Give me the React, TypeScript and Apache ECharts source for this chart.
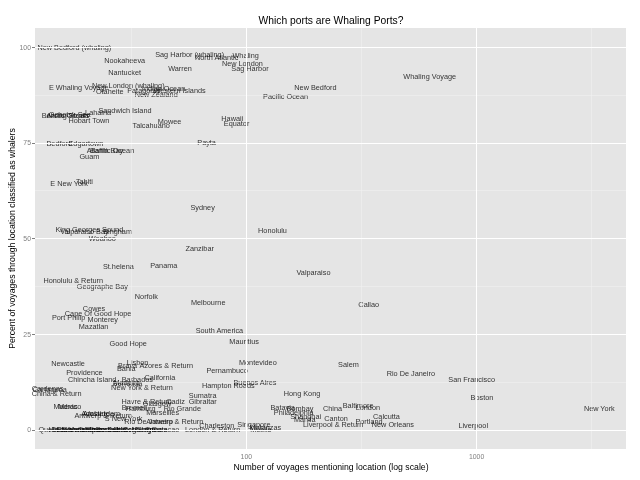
import React, { useEffect, useRef } from "react";
import * as echarts from "echarts";

// Port labels, the number of voyages that mention each one, and the percent classified as whalers
const portNames = [
  "New Bedford (whaling)", "Nookaheeva", "Sag Harbor (whaling)", "North Atlantic", "Whaling",
  "New London", "Sag Harbor", "Warren", "Nantucket", "Whaling Voyage",
  "New Bedford", "Pacific Ocean", "E Whaling Voyage", "New London (whaling)", "Otaheite",
  "Patagonia", "New Zealand", "Indian Ocean", "Western Islands", "Sandwich Island",
  "Arctic Ocean", "Behring Straits", "Ochotsk Sea", "Lahaina", "Hobart Town",
  "Mowee", "Talcahuano", "Hawaii", "Equator", "Payta",
  "Bedford", "Edgartown", "Atlantic Ocean", "Baffin Bay", "Guam",
  "E New York", "Tahiti", "Sydney", "King Georges Sound", "Valparaiso Bay",
  "Bingham", "Woahoo", "Zanzibar", "Honolulu", "Panama",
  "St.helena", "Valparaiso", "Honolulu & Return", "Geographe Bay", "Norfolk",
  "Melbourne", "Callao", "Cowes", "Cape Of Good Hope", "Port Philip",
  "Monterey", "Mazatlan", "South America", "Mauritius", "Good Hope",
  "Newcastle", "Lisbon", "Bahia", "Brava", "Azores & Return",
  "Pernambuco", "Montevideo", "Salem", "Rio De Janeiro", "San Francisco",
  "Boston", "New York", "Liverpool", "New Orleans", "Portland",
  "Calcutta", "London", "Baltimore", "China", "Canton",
  "Liverpool & Return", "Hong Kong", "Batavia", "Bombay", "Philadelphia",
  "Shanghai", "Manila", "Singapore", "Matanzas", "Mobile",
  "Charleston", "London & Return", "Hampton Roads", "Buenos Aires", "Sumatra",
  "Cadiz", "Gibraltar", "Havre & Return", "Glasgow", "Hamburg",
  "Bremen", "Rio Grande", "Marseilles", "Madras", "Mexico",
  "Amsterdam", "Adelaide", "Antwerp & Return", "S New York", "Rio De Janeiro & Return",
  "Antwerp", "Providence", "Chincha Island", "California", "Barbados",
  "Madeira", "Bermuda", "New York & Return", "Cardenas", "Cartagena",
  "China & Return",
  "Quebec", "Halifax", "St Johns", "Savannah", "Galveston",
  "Vera Cruz", "Tampico", "Havana", "Cronstadt", "Bordeaux",
  "Dublin", "Bristol", "Cork", "Leghorn", "Malaga",
  "Smyrna", "Trieste", "Curacao",
];

const voyageCounts = [
  17.9, 29.6, 56.7, 74.3, 99.3,
  96.1, 103.7, 51.5, 29.6, 626,
  199.5, 148, 18.7, 30.7, 25.5,
  35.8, 40.6, 43.7, 51.3, 29.7,
  16.7, 16.4, 17.1, 22.7, 20.7,
  46.4, 38.6, 86.9, 90.7, 67.2,
  15.4, 20.1, 25.7, 24.7, 20.8,
  17.0, 19.8, 64.6, 20.8, 19.8,
  27.6, 23.7, 62.7, 129.9, 43.8,
  27.8, 195.7, 17.7, 23.7, 36.8,
  68.3, 340, 21.8, 22.7, 16.9,
  23.8, 21.7, 76.4, 97.8, 30.7,
  16.8, 33.7, 30.1, 30.5, 44.9,
  82.5, 112.2, 277.6, 518, 952,
  1055, 3412, 967, 433, 341,
  406, 337, 305.6, 236.8, 245.2,
  238.4, 174.5, 143.8, 171, 160.6,
  181, 179.3, 107.9, 121, 115.7,
  74.4, 71.4, 83.5, 109, 64.6,
  49.3, 64.6, 36.9, 40.9, 34.7,
  32.7, 52.7, 43.3, 16.4, 17.1,
  23.5, 22.1, 23.9, 29.3, 43.8,
  42.0, 19.8, 21.4, 42.1, 33.6,
  30.2, 30.5, 35.2, 13.7, 14.0,
  15.0,
  14.2, 15.5, 16.4, 17.6, 18.7,
  20.0, 21.3, 22.8, 24.2, 26.0,
  27.6, 29.3, 31.4, 33.7, 35.8,
  38.0, 40.7, 44.6,
];

const whalerPercents = [
  100, 96.6, 98.2, 97.4, 97.9,
  95.8, 94.3, 94.3, 93.4, 92.3,
  89.4, 87.2, 89.4, 90.1, 88.4,
  88.7, 87.7, 89.1, 88.7, 83.4,
  82.1, 82.1, 82.3, 82.8, 80.9,
  80.6, 79.5, 81.3, 80.1, 75.1,
  74.9, 74.9, 73.1, 73.1, 71.3,
  64.5, 64.9, 58.2, 52.4, 51.9,
  51.9, 50.0, 47.5, 52.2, 42.9,
  42.7, 41.2, 38.9, 37.4, 34.9,
  33.2, 32.7, 31.7, 30.3, 29.4,
  28.8, 27.1, 25.9, 23.2, 22.5,
  17.4, 17.7, 16.0, 16.8, 16.7,
  15.4, 17.5, 17.1, 14.6, 13.1,
  8.4, 5.7, 1.2, 1.5, 2.1,
  3.5, 5.9, 6.3, 5.7, 3.0,
  1.5, 9.4, 5.9, 5.6, 4.6,
  3.6, 2.8, 1.5, 0.5, 0,
  1.2, 0, 11.7, 12.5, 9.1,
  7.3, 7.3, 7.3, 6.9, 5.5,
  5.9, 5.7, 4.6, 6.0, 6.0,
  4.2, 4.2, 3.8, 3.0, 2.2,
  2.2, 14.9, 13.2, 13.7, 13.1,
  12.5, 12.0, 11.1, 10.9, 10.6,
  9.5,
  0, 0, 0, 0, 0,
  0, 0, 0, 0, 0,
  0, 0, 0, 0, 0,
  0, 0, 0,
];

const xTickValues = [100, 1000];
const xMinorValues = [31.62, 316.2, 3162];
const yTickValues = [0, 25, 50, 75, 100];
const yMinorValues = [12.5, 37.5, 62.5, 87.5];

const X_MIN = 12.08;
const X_MAX = 4457;
const Y_MIN = -5;
const Y_MAX = 105;

const FONT = "'Liberation Sans', Arial, Helvetica, sans-serif";

export default function App() {
  const ref = useRef<HTMLDivElement>(null);

  useEffect(() => {
    if (!ref.current) return;
    const chart = echarts.init(ref.current, undefined, { renderer: "svg" });
    const lg = (v: number) => Math.log10(v);

    const majorStyle = { color: "#FFFFFF", width: 1, type: "solid" as const };
    const minorStyle = { color: "#F2F2F2", width: 0.5, type: "solid" as const };

    const points = portNames.map((name, i) => ({
      name,
      value: [lg(voyageCounts[i]), whalerPercents[i]],
    }));

    const option: any = {
      animation: false,
      grid: {
        left: 35,
        right: 14,
        top: 28,
        bottom: 31,
        show: true,
        backgroundColor: "#E5E5E5",
        borderWidth: 0,
        containLabel: false,
      },
      xAxis: {
        type: "value",
        min: lg(X_MIN),
        max: lg(X_MAX),
        axisLine: { show: false },
        splitLine: { show: false },
        axisTick: {
          show: true,
          customValues: xTickValues.map(lg),
          length: 3,
          lineStyle: { color: "#7F7F7F", width: 1 },
        },
        axisLabel: {
          customValues: xTickValues.map(lg),
          formatter: (v: number) => String(Math.round(Math.pow(10, v))),
          color: "#7F7F7F",
          fontSize: 6.9,
          fontFamily: FONT,
          margin: 4,
        },
      },
      yAxis: {
        type: "value",
        min: Y_MIN,
        max: Y_MAX,
        axisLine: { show: false },
        splitLine: { show: false },
        axisTick: {
          show: true,
          customValues: yTickValues,
          length: 3,
          lineStyle: { color: "#7F7F7F", width: 1 },
        },
        axisLabel: {
          customValues: yTickValues,
          formatter: (v: number) => String(v),
          color: "#7F7F7F",
          fontSize: 6.9,
          fontFamily: FONT,
          margin: 4,
        },
      },
      series: [
        {
          type: "scatter",
          data: [[2, 50]],
          symbolSize: 0,
          silent: true,
          z: 1,
          itemStyle: { color: "transparent" },
          markLine: {
            silent: true,
            symbol: ["none", "none"],
            label: { show: false },
            animation: false,
            data: [
              ...xMinorValues.map((v) => ({ xAxis: lg(v), lineStyle: minorStyle })),
              ...yMinorValues.map((v) => ({ yAxis: v, lineStyle: minorStyle })),
              ...xTickValues.map((v) => ({ xAxis: lg(v), lineStyle: majorStyle })),
              ...yTickValues.map((v) => ({ yAxis: v, lineStyle: majorStyle })),
            ],
          },
        },
        {
          type: "scatter",
          data: points,
          symbolSize: 0,
          clip: false,
          silent: true,
          z: 3,
          itemStyle: { color: "transparent" },
          label: {
            show: true,
            position: "inside",
            formatter: "{b}",
            color: "#000000",
            fontSize: 7.3,
            fontFamily: FONT,
          },
          emphasis: { disabled: true },
        },
      ],
      graphic: [
        {
          type: "text",
          x: 331,
          y: 20,
          style: {
            text: "Which ports are Whaling Ports?",
            fill: "#000000",
            font: `10.3px ${FONT}`,
            textAlign: "center",
            textVerticalAlign: "middle",
          },
        },
        {
          type: "text",
          x: 331,
          y: 467,
          style: {
            text: "Number of voyages mentioning location (log scale)",
            fill: "#000000",
            font: `8.7px ${FONT}`,
            textAlign: "center",
            textVerticalAlign: "middle",
          },
        },
        {
          type: "text",
          x: 12,
          y: 238.5,
          rotation: Math.PI / 2,
          style: {
            text: "Percent of voyages through location classified as whalers",
            fill: "#000000",
            font: `8.7px ${FONT}`,
            textAlign: "center",
            textVerticalAlign: "middle",
          },
        },
      ],
    };

    chart.setOption(option);
    return () => chart.dispose();
  }, []);

  return (
    <div
      ref={ref}
      style={{
        position: "fixed",
        left: 0,
        top: 0,
        width: 640,
        height: 480,
        background: "#FFFFFF",
        filter: "grayscale(1)",
      }}
    />
  );
}
